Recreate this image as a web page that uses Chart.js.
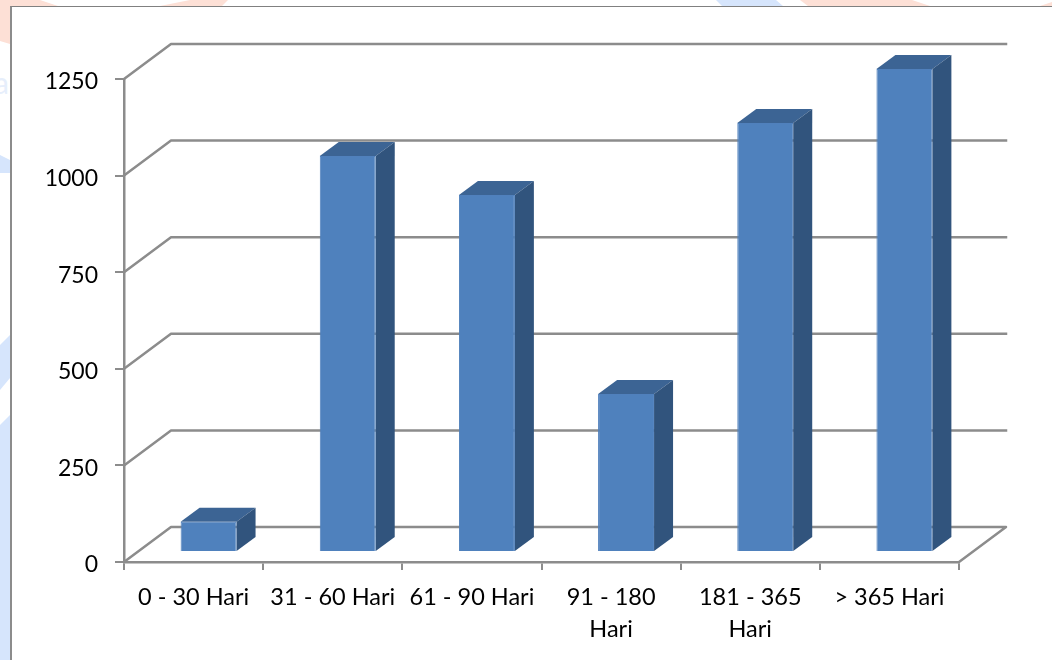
<!DOCTYPE html>
<html>
<head>
<meta charset="utf-8">
<title>Umur piutang</title>
<script src="https://cdn.jsdelivr.net/npm/chart.js@4/dist/chart.umd.min.js"></script>
<style>
  html, body { margin: 0; padding: 0; background: #fff; overflow: hidden; }
  #wrap { position: relative; width: 1052px; height: 660px; }
  #patches { position: absolute; left: 0; top: 0; }
  #frame { position: absolute; left: 10px; top: 6px; width: 1060px; height: 680px;
           background: #fff; border-left: 2px solid #8c8c8c; border-top: 1px solid #808080; }
  #chart { position: absolute; left: 0; top: 0; }
</style>
</head>
<body>
<div id="wrap">
  <svg id="patches" width="1052" height="660">
    <g fill="#fde0d6">
      <polygon points="0,0 40,0 58,6 10,6 10,44 0,41"/>
      <polygon points="160,6 190,0 228,0 222,6"/>
      <polygon points="800,0 912,0 930,6 808,6"/>
      <polygon points="1040,6 1052,2 1052,6"/>
    </g>
    <g fill="#d6e5fc">
      <polygon points="0,155 10,160 10,173 0,173"/>
      <polygon points="0,345 10,335 10,378 0,390"/>
      <polygon points="0,425 10,415 10,660 0,660"/>
      <polygon points="716,0 776,0 783,6 722,6"/>
    </g>
    <text x="-6" y="94" font-family="Lato" font-size="30" fill="#e6eefb">a</text>
  </svg>
  <div id="frame"></div>
  <canvas id="chart" width="1052" height="660"></canvas>
</div>
<script>
const kategori = [
  "0 - 30 Hari",
  "31 - 60 Hari",
  "61 - 90 Hari",
  ["91 - 180", "Hari"],
  ["181 - 365", "Hari"],
  "> 365 Hari"
];
const nilai = [78, 1025, 924, 409, 1110, 1250];
const yTicks = [0, 250, 500, 750, 1000, 1250];

const GARIS = "#8c8c8c";
const MUKA = "#4f81bd";
const ATAS = "#3c6494";
const SISI = "#31547d";

// kedalaman dinding belakang dan kedalaman batang (efek 3D)
const wallDepth = { x: 47, y: 35 };
const barDepth = { x: 19, y: 14 };
const barShift = { x: 15, y: 10 };

function poly(ctx, pts, fill) {
  ctx.beginPath();
  pts.forEach((p, i) => i ? ctx.lineTo(p[0], p[1]) : ctx.moveTo(p[0], p[1]));
  ctx.closePath();
  ctx.fillStyle = fill;
  ctx.fill();
}

// garis dinding belakang dan lantai, batang digeser ke tengah lantai
const efek3d = {
  id: "efek3d",
  beforeDatasetsDraw(chart) {
    const { ctx, chartArea: a, scales: { y } } = chart;
    ctx.save();
    ctx.strokeStyle = GARIS;
    ctx.lineWidth = 2.5;
    ctx.lineJoin = "round";
    ctx.lineCap = "square";
    yTicks.forEach(t => {
      const py = y.getPixelForValue(t);
      ctx.beginPath();
      ctx.moveTo(a.left, py);
      ctx.lineTo(a.left + wallDepth.x, py - wallDepth.y);
      ctx.lineTo(a.right + wallDepth.x, py - wallDepth.y);
      if (t === 0) ctx.lineTo(a.right, py);
      ctx.stroke();
    });
    ctx.restore();

    ctx.save();
    ctx.translate(barShift.x, -barShift.y);
    chart.getDatasetMeta(0).data.forEach(bar => {
      const l = bar.x - bar.width / 2, r = bar.x + bar.width / 2;
      const dx = barDepth.x, dy = barDepth.y;
      poly(ctx, [[l, bar.y], [l + dx, bar.y - dy], [r + dx, bar.y - dy], [r, bar.y]], ATAS);
      poly(ctx, [[r, bar.y], [r + dx, bar.y - dy], [r + dx, bar.base - dy], [r, bar.base]], SISI);
    });
  },
  afterDatasetsDraw(chart) {
    chart.ctx.restore();
  }
};

new Chart(document.getElementById("chart"), {
  type: "bar",
  data: {
    labels: kategori,
    datasets: [{
      data: nilai,
      backgroundColor: MUKA,
      borderColor: "#5080bc",
      borderWidth: 1,
      barPercentage: 0.402,
      categoryPercentage: 1
    }]
  },
  options: {
    responsive: false,
    animation: false,
    layout: { padding: { left: 0, right: 93, top: 79, bottom: 0 } },
    plugins: { legend: { display: false }, tooltip: { enabled: false } },
    scales: {
      x: {
        afterFit: s => { s.height = 98; },
        border: { color: GARIS, width: 2.5 },
        grid: { drawOnChartArea: false, color: GARIS, lineWidth: 2, tickLength: 8 },
        ticks: {
          autoSkip: false, maxRotation: 0, minRotation: 0, padding: 11,
          color: "#000", font: { family: "Lato", size: 23.5, lineHeight: 1.36 }
        }
      },
      y: {
        min: 0,
        max: 1250,
        afterFit: s => { s.width = 124; },
        afterBuildTicks: s => { s.ticks = yTicks.map(v => ({ value: v })); },
        border: { color: GARIS, width: 2.5 },
        grid: { drawOnChartArea: false, color: GARIS, lineWidth: 2, tickLength: 9 },
        ticks: {
          padding: 17,
          labelOffset: 3,
          callback: v => String(v),
          color: "#000", font: { family: "Lato", size: 23 }
        }
      }
    }
  },
  plugins: [efek3d]
});
</script>
</body>
</html>
